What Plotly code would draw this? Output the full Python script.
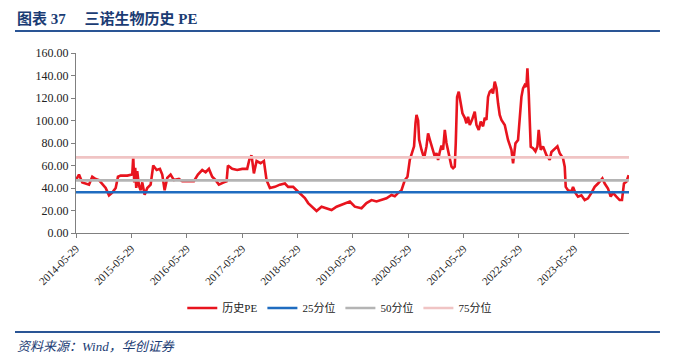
import pandas as pd
import plotly.graph_objects as go

# decimal-year time stamps and PE values
t_year = [
    2014.405, 2014.459, 2014.519, 2014.580, 2014.640, 2014.699, 2014.761, 2014.820, 2014.880, 2014.941,
    2015.001, 2015.060, 2015.122, 2015.163, 2015.212, 2015.331, 2015.421, 2015.439, 2015.457, 2015.475,
    2015.493, 2015.511, 2015.542, 2015.573, 2015.602, 2015.645, 2015.692, 2015.753, 2015.800, 2015.862,
    2015.921, 2015.963, 2016.006, 2016.053, 2016.114, 2016.174, 2016.264, 2016.324, 2016.535, 2016.607,
    2016.685, 2016.746, 2016.806, 2016.865, 2016.927, 2016.986, 2017.076, 2017.125, 2017.149, 2017.226,
    2017.317, 2017.407, 2017.497, 2017.540, 2017.576, 2017.618, 2017.667, 2017.739, 2017.799, 2017.847,
    2017.907, 2017.997, 2018.087, 2018.178, 2018.237, 2018.327, 2018.389, 2018.479, 2018.539, 2018.598,
    2018.660, 2018.750, 2018.840, 2018.930, 2019.021, 2019.111, 2019.201, 2019.291, 2019.351, 2019.441,
    2019.562, 2019.652, 2019.743, 2019.833, 2019.923, 2020.013, 2020.104, 2020.163, 2020.223, 2020.284,
    2020.344, 2020.392, 2020.434, 2020.475, 2020.511, 2020.537, 2020.555, 2020.584, 2020.602, 2020.645,
    2020.692, 2020.735, 2020.764, 2020.795, 2020.826, 2020.855, 2020.885, 2020.916, 2020.945, 2020.975,
    2021.006, 2021.035, 2021.066, 2021.096, 2021.125, 2021.156, 2021.187, 2021.215, 2021.246, 2021.264,
    2021.288, 2021.318, 2021.354, 2021.385, 2021.427, 2021.457, 2021.486, 2021.517, 2021.558, 2021.607,
    2021.638, 2021.679, 2021.715, 2021.757, 2021.788, 2021.818, 2021.847, 2021.878, 2021.909, 2021.937,
    2021.968, 2021.999, 2022.028, 2022.058, 2022.089, 2022.149, 2022.208, 2022.270, 2022.299, 2022.342,
    2022.389, 2022.419, 2022.450, 2022.479, 2022.510, 2022.540, 2022.558, 2022.582, 2022.600, 2022.618,
    2022.660, 2022.703, 2022.739, 2022.762, 2022.799, 2022.840, 2022.901, 2022.961, 2022.992, 2023.051,
    2023.100, 2023.141, 2023.201, 2023.232, 2023.250, 2023.291, 2023.353, 2023.382, 2023.425, 2023.472,
    2023.533, 2023.593, 2023.652, 2023.714, 2023.773, 2023.833, 2023.912, 2023.954, 2024.013, 2024.062,
    2024.104, 2024.165, 2024.224, 2024.266, 2024.302, 2024.346, 2024.387,
]
pe_values = [
    47, 52, 45, 44, 43, 50, 48, 47, 43, 40,
    33.5, 36, 40, 50, 51, 51, 52, 68, 45, 58,
    40, 55, 42, 38, 45, 34, 40, 43, 60, 56,
    57, 52, 38, 49, 52, 47, 48, 46, 46, 52,
    56, 54, 57, 50, 47, 43, 45, 46, 60, 57,
    56, 57, 57, 66, 69, 53, 64, 62, 64, 47,
    40, 41, 43, 44, 41, 41, 38, 34, 31, 26.6,
    23.4, 19.5, 23.4, 22, 20.4, 23.4, 25, 26.6, 28, 23.4,
    22, 26.6, 29.3, 28, 29.3, 30.8, 33.8, 32.6, 35.6, 38,
    47, 50, 65, 72, 77, 97.7, 105, 100, 83, 74,
    66.4, 77, 88.6, 83, 77, 72, 68, 71, 65, 72,
    77.7, 74, 91.6, 80, 74, 65, 59, 57.6, 59, 80,
    121, 125.6, 116.7, 106.4, 102.4, 97.5, 103.4, 96, 100.6, 107.8,
    96, 91.6, 99, 94.8, 102.4, 100.6, 121, 125.6, 127, 124,
    134.5, 128.6, 115.3, 105, 100.6, 96, 82.7, 73.8, 62, 79.7,
    82.7, 106.4, 121, 128.6, 131.6, 130, 146.4, 124, 100.4, 76.7,
    75.3, 72.6, 77, 91.6, 74, 77, 69.3, 65, 72, 75,
    77, 71, 66.4, 59, 41, 38, 37, 41, 35.6, 32.3,
    33.5, 29.3, 30.8, 35.6, 41, 44, 48.6, 44, 39.6, 32.3,
    35.6, 32.3, 29.3, 29.3, 44, 45.6, 51.5,
]
pct25 = 36.2
pct50 = 46.8
pct75 = 67.2

x_tick_labels = ["2014-05-29", "2015-05-29", "2016-05-29", "2017-05-29", "2018-05-29",
                 "2019-05-29", "2020-05-29", "2021-05-29", "2022-05-29", "2023-05-29"]
y_ticks = [0, 20, 40, 60, 80, 100, 120, 140, 160]

series_names = ["历史PE", "25分位", "50分位", "75分位"]
colors = ["#e8141e", "#1f6cc0", "#b4b4b4", "#f0c4c4"]

dates = [pd.Timestamp("2014-01-01") + pd.Timedelta(days=(t - 2014) * 365.25) for t in t_year]
x_start = pd.Timestamp("2014-05-29")
x_end = pd.Timestamp("2024-05-24")

fig = go.Figure()
fig.add_trace(go.Scatter(x=dates, y=pe_values, mode="lines", name=series_names[0],
                         line=dict(color=colors[0], width=2.6)))
for name, val, col in zip(series_names[1:], [pct25, pct50, pct75], colors[1:]):
    fig.add_trace(go.Scatter(x=[x_start, x_end], y=[val, val], mode="lines", name=name,
                             line=dict(color=col, width=2.6)))

serif = "Liberation Serif, Times New Roman, Noto Sans CJK SC, serif"
navy = "#1b3c74"

# the page body adds an 8px margin, so the figure is laid out 8px up/left
fig.update_layout(
    width=665, height=347,
    margin=dict(l=68, r=44, t=45, b=122, autoexpand=False),
    paper_bgcolor="white", plot_bgcolor="white",
    font=dict(family=serif, size=11, color="#222222"),
    showlegend=True,
    legend=dict(orientation="h", x=0.477, xanchor="center",
                yref="container", y=0.1354, yanchor="middle",
                font=dict(family=serif, size=11, color="#222222"),
                itemwidth=30, traceorder="normal", bgcolor="rgba(0,0,0,0)"),
    xaxis=dict(type="date", range=[x_start, x_end], automargin=False,
               tickvals=[pd.Timestamp(s) for s in x_tick_labels], ticktext=x_tick_labels,
               tickangle=-45, ticks="outside", ticklen=4, tickcolor="#808080",
               showline=True, linecolor="#808080", linewidth=1, showgrid=False, zeroline=False,
               tickfont=dict(family=serif, size=11, color="#222222")),
    yaxis=dict(range=[0, 160], tickvals=y_ticks, ticktext=[f"{v:.2f}" for v in y_ticks],
               automargin=False,
               ticks="outside", ticklen=4, tickcolor="#808080",
               showline=True, linecolor="#808080", linewidth=1, showgrid=False, zeroline=False,
               tickfont=dict(family=serif, size=12, color="#222222")),
)

# title rule and source rule
fig.add_shape(type="line", xref="paper", yref="paper", x0=-0.1103, x1=1.056, y0=1.122, y1=1.122,
              line=dict(color="#2a5595", width=2))
fig.add_shape(type="line", xref="paper", yref="paper", x0=-0.1103, x1=1.056, y0=-0.55, y1=-0.55,
              line=dict(color="#2a5595", width=2))

fig.add_annotation(xref="paper", yref="paper", x=-0.1103, y=1.194, xanchor="left", yanchor="middle",
                   text="<b>图表 37&nbsp;&nbsp;&nbsp;&nbsp;&nbsp;三诺生物历史 PE</b>", showarrow=False,
                   font=dict(family=serif, size=15, color=navy))
fig.add_annotation(xref="paper", yref="paper", x=-0.1103, y=-0.633, xanchor="left", yanchor="middle",
                   text="<i>资料来源：Wind，华创证券</i>", showarrow=False,
                   font=dict(family=serif, size=13, color=navy))

fig.write_html("out.html")
